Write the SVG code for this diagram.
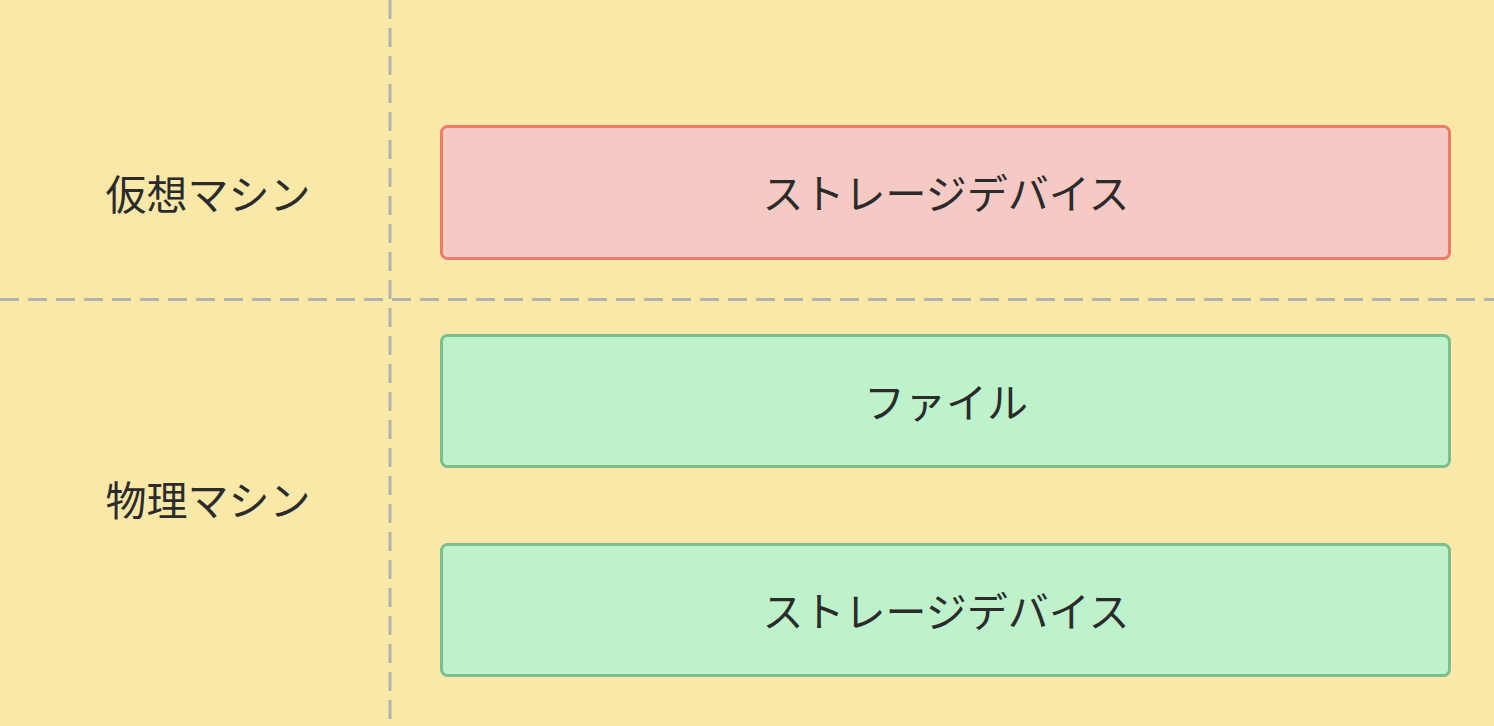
<svg xmlns="http://www.w3.org/2000/svg" width="1494" height="726" viewBox="0 0 1494 726">
<style>
.bg{fill:#fae8a9}
.grid{stroke:#b4b2ac;stroke-width:3;stroke-dasharray:19 9;fill:none}
.vm{fill:#f5c9c4;stroke:#ef7b68;stroke-width:3}
.pm{fill:#bdf2cb;stroke:#7cbf8e;stroke-width:3}
text{font-family:"Noto Sans CJK JP","Noto Sans",sans-serif;font-size:41px;fill:#2b2b2b;text-anchor:middle;dominant-baseline:central}
</style>
<rect class="bg" x="0" y="0" width="1494" height="726"/>
<g id="grid">
<line class="grid" x1="390" y1="0" x2="390" y2="726"/>
<line class="grid" x1="0" y1="299.5" x2="1494" y2="299.5"/>
</g>
<g id="label-vm"><text x="208" y="192">仮想マシン</text></g>
<g id="label-pm"><text x="208" y="498">物理マシン</text></g>
<g id="vm-storage">
<rect class="vm" x="441.5" y="126.5" width="1008" height="132" rx="6"/>
<text x="946" y="191">ストレージデバイス</text>
</g>
<g id="pm-file">
<rect class="pm" x="441.5" y="335.5" width="1008" height="131" rx="6"/>
<text x="946" y="400">ファイル</text>
</g>
<g id="pm-storage">
<rect class="pm" x="441.5" y="544.5" width="1008" height="131" rx="6"/>
<text x="946" y="609">ストレージデバイス</text>
</g>
<g id="connectors"></g>
</svg>
